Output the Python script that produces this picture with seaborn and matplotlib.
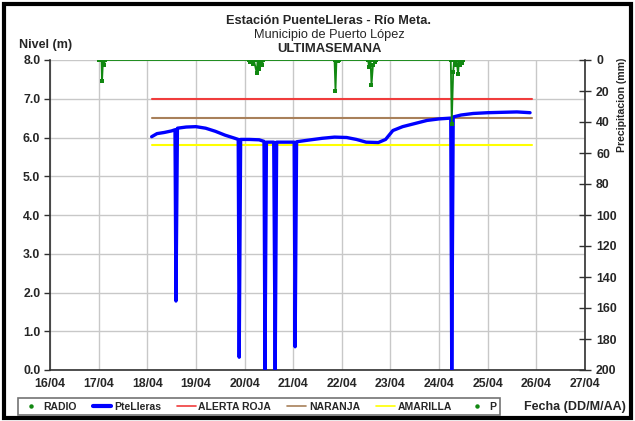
import matplotlib
matplotlib.use("Agg")
import matplotlib.pyplot as plt
import seaborn as sns
import pandas as pd
from matplotlib.lines import Line2D
from matplotlib.patches import Rectangle

# ---------------- data ----------------
x_ticks = [16, 17, 18, 19, 20, 21, 22, 23, 24, 25, 26, 27]
x_labels = ["16/04", "17/04", "18/04", "19/04", "20/04", "21/04", "22/04",
            "23/04", "24/04", "25/04", "26/04", "27/04"]
y_ticks = [0, 1, 2, 3, 4, 5, 6, 7, 8]
y_labels = ["0.0", "1.0", "2.0", "3.0", "4.0", "5.0", "6.0", "7.0", "8.0"]
p_ticks = [0, 20, 40, 60, 80, 100, 120, 140, 160, 180, 200]

# PteLleras level (m) - day of April, value
lvl_day = [18.09, 18.2, 18.35, 18.5, 18.57, 18.59, 18.62, 18.8, 19.0, 19.2, 19.4,
           19.6, 19.8, 19.87, 19.89, 19.92, 20.1, 20.3, 20.40, 20.42, 20.45, 20.6,
           20.63, 20.66, 20.9, 21.02, 21.04, 21.07, 21.3, 21.6, 21.85, 22.1, 22.3,
           22.5, 22.75, 22.9, 23.05, 23.25, 23.5, 23.75, 24.0, 24.24, 24.26, 24.29,
           24.45, 24.7, 25.0, 25.3, 25.6, 25.87]
lvl_val = [6.02, 6.10, 6.13, 6.17, 6.20, 1.78, 6.24, 6.27, 6.28, 6.24, 6.16,
           6.06, 5.98, 5.95, 0.33, 5.95, 5.95, 5.94, 5.90, 0.0, 5.88, 5.88,
           0.0, 5.88, 5.88, 5.88, 0.6, 5.89, 5.93, 5.98, 6.01, 6.00, 5.95,
           5.88, 5.87, 5.95, 6.18, 6.28, 6.36, 6.44, 6.48, 6.50, 0.0, 6.53,
           6.58, 6.62, 6.64, 6.65, 6.66, 6.64]

# precipitation P (mm)
p_day = [17.00, 17.06, 17.07, 17.09, 17.11, 17.13, 20.09, 20.11, 20.13, 20.17,
         20.19, 20.25, 20.27, 20.30, 20.32, 20.36, 20.38, 21.85, 21.87, 21.89,
         21.92, 21.94, 22.54, 22.56, 22.59, 22.61, 22.64, 22.68, 22.70, 24.24,
         24.26, 24.29, 24.31, 24.34, 24.36, 24.39, 24.41, 24.44, 24.46, 24.48,
         24.50]
p_val = [0, 0, 13.5, 0, 3.0, 0, 0, 1.3, 0, 2.4,
         0, 8.2, 0, 5.6, 0, 3.2, 0, 0, 20.0, 0,
         0.5, 0, 0, 4.5, 0, 16.3, 3.4, 1.3, 0, 0,
         41.0, 7.7, 0, 3.3, 0, 8.8, 0, 3.3, 0, 2.0,
         0]

# alert thresholds (m)
alert_names = ["ALERTA ROJA", "NARANJA", "AMARILLA"]
alert_vals = [7.0, 6.5, 5.8]
alert_colors = ["#f03c3c", "#a8805a", "#ffff00"]
alert_span = [18.09, 25.9]

# ---------------- figure ----------------
sns.set_style("white")
plt.rcParams["font.family"] = ["Liberation Sans", "DejaVu Sans"]

fig = plt.figure(figsize=(6.35, 4.21), dpi=100)
ax = fig.add_axes([50 / 635, 1 - 370 / 421, 535 / 635, 310 / 421])
ax2 = ax.twinx()

lvl_df = pd.DataFrame({"dia": lvl_day, "nivel": lvl_val})
p_df = pd.DataFrame({"dia": p_day, "P": p_val})

for name, v, c in zip(alert_names, alert_vals, alert_colors):
    sns.lineplot(x=alert_span, y=[v, v], ax=ax, color=c, linewidth=1.5, zorder=3)

sns.lineplot(data=lvl_df, x="dia", y="nivel", ax=ax, color="#0000ff",
             linewidth=2.4, sort=False, estimator=None, zorder=4)

sns.lineplot(data=p_df, x="dia", y="P", ax=ax2, color="#118811",
             linewidth=1.3, sort=False, estimator=None, marker="s",
             markersize=2.2, markeredgewidth=0, zorder=5)

ax.set_xlim(16, 27)
ax.set_ylim(0, 8)
ax2.set_ylim(200, 0)

ax.set_xticks(x_ticks)
ax.set_xticklabels(x_labels, fontsize=8.8, fontweight="bold")
ax.set_yticks(y_ticks)
ax.set_yticklabels(y_labels, fontsize=8.8, fontweight="bold")
ax2.set_yticks(p_ticks)
ax2.set_yticklabels([str(t) for t in p_ticks], fontsize=8.8, fontweight="bold")

ax.set_xlabel("")
ax.set_ylabel("")
ax2.set_xlabel("")
ax2.set_ylabel("")

ax.grid(True, color="#c8c8c8", linewidth=1)
ax.set_axisbelow(True)
ax.spines["top"].set_visible(False)
ax2.spines["top"].set_visible(False)
ax.spines["right"].set_visible(False)
for s in ["left", "bottom"]:
    ax.spines[s].set_color("#303030")
    ax.spines[s].set_linewidth(1.2)
ax2.spines["left"].set_visible(False)
ax2.spines["bottom"].set_visible(False)
ax2.spines["right"].set_color("#303030")
ax2.spines["right"].set_linewidth(1.2)

ax.tick_params(axis="x", direction="out", length=4, width=1, color="#303030", pad=2)
ax.tick_params(axis="y", direction="out", length=4, width=1, color="#303030", pad=3)
ax2.tick_params(axis="y", direction="inout", length=8, width=1, color="#303030", pad=4)

# titles and labels
fig.text(329 / 635, 1 - 21 / 421, "Estación PuenteLleras - Río Meta.",
         ha="center", va="center", fontsize=9.2, fontweight="bold")
fig.text(329 / 635, 1 - 35 / 421, "Municipio de Puerto López",
         ha="center", va="center", fontsize=9.2)
fig.text(329 / 635, 1 - 49 / 421, "ULTIMASEMANA",
         ha="center", va="center", fontsize=9.4, fontweight="bold")
fig.text(46 / 635, 1 - 45 / 421, "Nivel (m)", ha="center", va="center",
         fontsize=9, fontweight="bold")
fig.text(622 / 635, 1 - 105 / 421, "Precipitacion (mm)", ha="center",
         va="center", rotation=90, fontsize=7.6, fontweight="bold")
fig.text(575 / 635, 1 - 407 / 421, "Fecha (DD/M/AA)", ha="center",
         va="center", fontsize=9, fontweight="bold")

# legend
handles = [
    Line2D([], [], color="#118811", marker="o", markersize=2.2, linestyle="none"),
    Line2D([], [], color="#0000ff", linewidth=3),
    Line2D([], [], color=alert_colors[0], linewidth=1.2),
    Line2D([], [], color=alert_colors[1], linewidth=1.2),
    Line2D([], [], color=alert_colors[2], linewidth=1.2),
    Line2D([], [], color="#118811", marker="o", markersize=2.2, linestyle="none"),
]
labels = ["RADIO", "PteLleras"] + alert_names + ["P"]
leg = fig.legend(handles, labels, loc="center",
                 bbox_to_anchor=(259 / 635, 1 - 406.5 / 421),
                 ncol=6, fontsize=7.5, frameon=True,
                 fancybox=False, borderpad=0.35, handlelength=1.8,
                 handletextpad=0.25, columnspacing=1.55, borderaxespad=0)
for t in leg.get_texts():
    t.set_fontweight("bold")
leg.get_frame().set_edgecolor("#505050")
leg.get_frame().set_linewidth(1.2)

# outer border
fig.patches.append(Rectangle((4 / 635, 3 / 421), 627 / 635, 414 / 421,
                             transform=fig.transFigure, fill=False,
                             edgecolor="black", linewidth=3))

fig.savefig("out.png", dpi=100)
